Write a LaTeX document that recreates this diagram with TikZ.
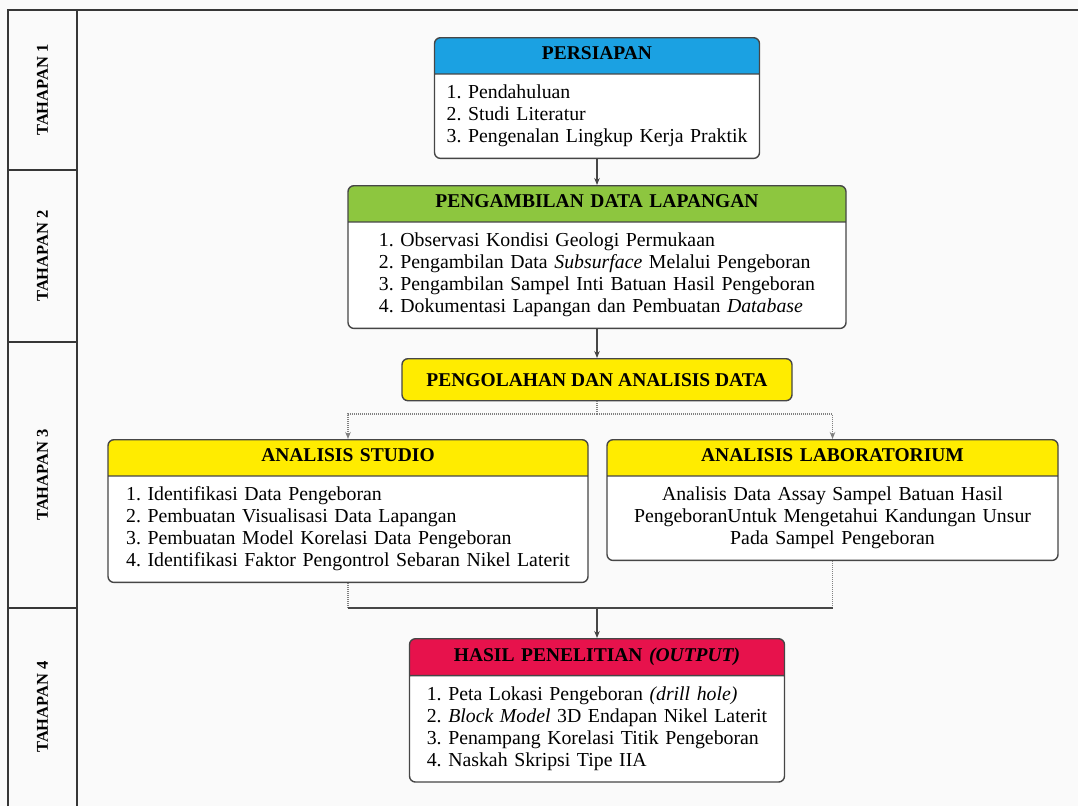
\documentclass[tikz,border=0pt]{standalone}
\usepackage{fontspec}
\setmainfont{Liberation Serif}
\frenchspacing
\usetikzlibrary{arrows.meta,shapes.multipart}

\definecolor{hblue}{RGB}{27,161,226}
\definecolor{hgreen}{RGB}{141,198,63}
\definecolor{hyellow}{RGB}{255,236,0}
\definecolor{hred}{RGB}{231,18,76}
\definecolor{framegray}{RGB}{55,55,55}
\definecolor{boxgray}{RGB}{70,70,70}
\definecolor{paper}{RGB}{250,250,250}

\newcommand{\headstrut}{\rule[-5pt]{0pt}{16pt}}
\newcommand{\stagehead}[1]{{\centering\fontsize{19.5}{22}\selectfont\bfseries #1\headstrut\par}}

\begin{document}
\begin{tikzpicture}[x=1pt,y=-1pt,
        stage/.style={rectangle split, rectangle split parts=2, anchor=north,
            draw=boxgray, line width=1.4pt, rounded corners=6pt,
            inner xsep=0pt, inner ysep=8.5pt,
            rectangle split part fill={#1,white},
            font=\fontsize{19.8}{22}\selectfont},
        title/.style={rectangle, anchor=north, draw=boxgray, line width=1.4pt,
            rounded corners=6pt, fill=hyellow, inner sep=0pt,
            minimum height=42pt, font=\fontsize{19.5}{22}\selectfont\bfseries},
        tahap/.style={rotate=90, font=\fontsize{16.5}{18}\selectfont\bfseries},
        frame/.style={draw=framegray, line width=2.4pt},
        conn/.style={draw=boxgray, line width=1.3pt},
        arrow/.style={conn, -{Stealth[length=7pt,width=5.5pt]}},
        dotconn/.style={draw=gray, line width=1.2pt, dash pattern=on 1pt off 1pt},
        dotarrow/.style={dotconn, -{Stealth[length=7pt,width=5.5pt]}}
    ]
        % paper and stage column
        \fill[paper] (0,0) rectangle (1078,806);
        \useasboundingbox (0,0) rectangle (1078,806);
        \draw[frame] (8,806) -- (8,10) -- (1078,10);
        \draw[frame] (77,10) -- (77,806);
        \foreach \y in {170,342,608}
            \draw[frame] (8,\y) -- (77,\y);

        \node[tahap] (tahap1) at (42.5,90) {TAHAPAN 1};
        \node[tahap] (tahap2) at (42.5,256) {TAHAPAN 2};
        \node[tahap] (tahap3) at (42.5,475) {TAHAPAN 3};
        \node[tahap] (tahap4) at (42.5,707) {TAHAPAN 4};

        % Tahapan 1
        \node[stage=hblue, text width=325pt] (persiapan) at (597,37) {
            \stagehead{PERSIAPAN}
            \nodepart{two}{\centering
            \begin{tabular}{@{}l@{}}
                1. Pendahuluan\\
                2. Studi Literatur\\
                3. Pengenalan Lingkup Kerja Praktik
            \end{tabular}\par}};

        % Tahapan 2
        \node[stage=hgreen, text width=498pt] (lapangan) at (597,185) {
            \stagehead{PENGAMBILAN DATA LAPANGAN}
            \nodepart{two}{\centering
            \begin{tabular}{@{}l@{}}
                1. Observasi Kondisi Geologi Permukaan\\
                2. Pengambilan Data \textit{Subsurface} Melalui Pengeboran\\
                3. Pengambilan Sampel Inti Batuan Hasil Pengeboran\\
                4. Dokumentasi Lapangan dan Pembuatan \textit{Database}
            \end{tabular}\par}};

        % Tahapan 3
        \node[title, minimum width=390pt] (olah) at (597,358) {PENGOLAHAN DAN ANALISIS DATA};

        \node[stage=hyellow, text width=480pt] (studio) at (348,439) {
            \stagehead{ANALISIS STUDIO}
            \nodepart{two}{\centering
            \begin{tabular}{@{}l@{}}
                1. Identifikasi Data Pengeboran\\
                2. Pembuatan Visualisasi Data Lapangan\\
                3. Pembuatan Model Korelasi Data Pengeboran\\
                4. Identifikasi Faktor Pengontrol Sebaran Nikel Laterit
            \end{tabular}\par}};

        \node[stage=hyellow, text width=451pt] (lab) at (832.5,439) {
            \stagehead{ANALISIS LABORATORIUM}
            \nodepart{two}{\centering
            \begin{tabular}{@{}c@{}}
                Analisis Data Assay Sampel Batuan Hasil\\
                PengeboranUntuk Mengetahui Kandungan Unsur\\
                Pada Sampel Pengeboran
            \end{tabular}\par}};

        % Tahapan 4
        \node[stage=hred, text width=375pt] (hasil) at (597,638) {
            \stagehead{HASIL PENELITIAN \textit{(OUTPUT)}}
            \nodepart{two}{\centering
            \begin{tabular}{@{}l@{}}
                1. Peta Lokasi Pengeboran \textit{(drill hole)}\\
                2. \textit{Block Model} 3D Endapan Nikel Laterit\\
                3. Penampang Korelasi Titik Pengeboran\\
                4. Naskah Skripsi Tipe IIA
            \end{tabular}\par}};

        % connectors
        \coordinate (split) at (597,414);
        \coordinate (join) at (597,608);

        \draw[arrow] (persiapan.south) -- (lapangan.north);
        \draw[arrow] (lapangan.south) -- (olah.north);
        \draw[dotconn] (olah.south) -- (split);
        \draw[dotarrow] (split) -| (studio.north);
        \draw[dotarrow] (split) -| (lab.north);
        \draw[dotconn] (studio.south) -- (studio.south |- join);
        \draw[dotconn] (lab.south) -- (lab.south |- join);
        \draw[conn] (studio.south |- join) -- (lab.south |- join);
        \draw[arrow] (join) -- (hasil.north);
    \end{tikzpicture}
\end{document}
